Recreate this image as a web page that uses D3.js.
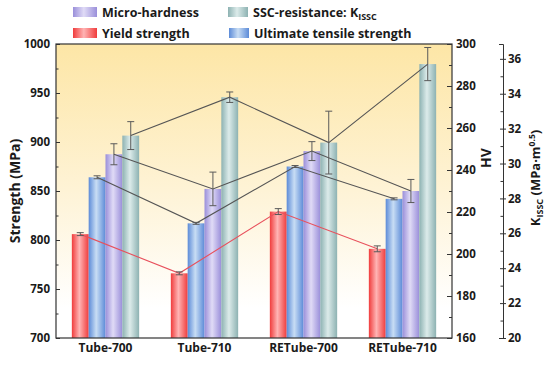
<!DOCTYPE html>
<html><head><meta charset="utf-8">
<script src="https://cdn.jsdelivr.net/npm/d3@7"></script>
<style>
body{margin:0;background:#fff;}
text{font-family:"Open Sans",sans-serif;font-weight:700;fill:#1a1a1a;}
</style></head>
<body><svg id="c" width="547" height="369"></svg>
<script>
const categories = ["Tube-700","Tube-710","RETube-700","RETube-710"];
const yieldStrength = [806, 766, 829, 791];
const yieldErr = [1.5, 1.5, 3, 3];
const ultimateStrength = [864, 817, 875, 842];
const ultimateErr = [1.5, 1, 1, 1];
const microHardness = [247.5, 231, 249, 230];
const microErr = [5, 8, 4.5, 5.5];
const kissc = [31.6, 33.8, 31.2, 35.7];
const kisscErr = [0.8, 0.3, 1.8, 0.95];
const strengthTicks = [700,750,800,850,900,950,1000];
const hvTicks = [160,180,200,220,240,260,280,300];
const kTicks = [20,22,24,26,28,30,32,34,36];

const svg = d3.select("#c");
const L=56,R=452,T=44,B=338;
const x0 = d3.scaleBand().domain(categories).range([L,R]).paddingInner(0.32).paddingOuter(0.16);
const seriesKeys = ["yield","uts","hv","k"];
const x1 = d3.scaleBand().domain(seriesKeys).range([0,x0.bandwidth()]);
const yS = d3.scaleLinear().domain([700,1000]).range([B,T]);
const yH = d3.scaleLinear().domain([160,300]).range([B,T]);
const yK = d3.scaleLinear().domain([20,36.85]).range([B,T]);

const defs = svg.append("defs");
const bg = defs.append("linearGradient").attr("id","bg").attr("x1",0).attr("x2",0).attr("y1",0).attr("y2",1);
bg.append("stop").attr("offset","0").attr("stop-color","#fde6a6");
bg.append("stop").attr("offset","0.5").attr("stop-color","#fef3d6");
bg.append("stop").attr("offset","0.9").attr("stop-color","#ffffff");
const grads = {
  yield:["#f03c3c","#ffb4b4"],
  uts:["#5c8bd8","#c8ddf4"],
  hv:["#9a8fda","#e0dbf6"],
  k:["#8db2b2","#dcebea"]
};
for (const k in grads){
  const g = defs.append("linearGradient").attr("id","g_"+k).attr("x1",0).attr("x2",1).attr("y1",0).attr("y2",0);
  g.append("stop").attr("offset","0").attr("stop-color",grads[k][0]);
  g.append("stop").attr("offset","0.45").attr("stop-color",grads[k][1]);
  g.append("stop").attr("offset","1").attr("stop-color",grads[k][0]);
}

svg.append("rect").attr("x",L).attr("y",T).attr("width",R-L).attr("height",B-T).attr("fill","url(#bg)");

const series = [
  {key:"yield", vals:yieldStrength, err:yieldErr, y:yS, line:"#e8505c"},
  {key:"uts", vals:ultimateStrength, err:ultimateErr, y:yS, line:"#555"},
  {key:"hv", vals:microHardness, err:microErr, y:yH, line:"#555"},
  {key:"k", vals:kissc, err:kisscErr, y:yK, line:"#555"}
];

series.forEach(s=>{
  svg.append("g").selectAll("rect").data(categories).join("rect")
    .attr("x",(c)=>x0(c)+x1(s.key))
    .attr("width",x1.bandwidth())
    .attr("y",(c,i)=>s.y(s.vals[i]))
    .attr("height",(c,i)=>B-s.y(s.vals[i]))
    .attr("fill","url(#g_"+s.key+")");
});
series.forEach(s=>{
  const line = d3.line().x((c)=>x0(c)+x1(s.key)+x1.bandwidth()/2).y((c,i)=>s.y(s.vals[i]));
  svg.append("path").attr("d",line(categories)).attr("fill","none").attr("stroke",s.line).attr("stroke-width",1.1);
});
series.forEach(s=>{
  const g = svg.append("g").attr("stroke","#5a5a5a").attr("stroke-width",1);
  categories.forEach((c,i)=>{
    const cx = x0(c)+x1(s.key)+x1.bandwidth()/2;
    const y1 = s.y(s.vals[i]+s.err[i]), y2 = s.y(s.vals[i]-s.err[i]);
    g.append("line").attr("x1",cx).attr("x2",cx).attr("y1",y1).attr("y2",y2);
    g.append("line").attr("x1",cx-3.5).attr("x2",cx+3.5).attr("y1",y1).attr("y2",y1);
    g.append("line").attr("x1",cx-3.5).attr("x2",cx+3.5).attr("y1",y2).attr("y2",y2);
  });
});

svg.append("rect").attr("x",L).attr("y",T).attr("width",R-L).attr("height",B-T).attr("fill","none").attr("stroke","#333").attr("stroke-width",1.2);

function style(g){ g.select(".domain").remove(); g.selectAll("line").attr("stroke","#333"); g.selectAll("text").attr("font-size",11.5).attr("font-family","Open Sans").attr("font-weight",700).attr("fill","#1a1a1a"); }
svg.append("g").attr("transform",`translate(${L},0)`).call(d3.axisLeft(yS).tickValues(strengthTicks).tickFormat(d3.format("d")).tickSize(-4).tickPadding(6)).call(style);
svg.append("g").attr("transform",`translate(${L},0)`).call(d3.axisLeft(yS).tickValues(d3.range(725,1000,50)).tickSize(-2.5).tickFormat("")).call(style);
svg.append("g").attr("transform",`translate(${R},0)`).call(d3.axisRight(yH).tickValues(hvTicks).tickSize(-5).tickPadding(4)).call(style);
svg.append("g").attr("transform",`translate(${R},0)`).call(d3.axisRight(yH).tickValues(d3.range(170,300,20)).tickSize(-3).tickFormat("")).call(style);
const KX = 503;
const kg = svg.append("g").attr("transform",`translate(${KX},0)`).call(d3.axisRight(yK).tickValues(kTicks).tickSizeInner(3).tickSizeOuter(-4).tickPadding(2));
kg.select(".domain").attr("stroke","#333").attr("fill","none");
kg.selectAll(".tick line").attr("x1",-3).attr("stroke","#333");
kg.selectAll("text").attr("font-size",11.5).attr("font-family","Open Sans").attr("font-weight",700).attr("fill","#1a1a1a");
const kg2 = svg.append("g").attr("transform",`translate(${KX},0)`).call(d3.axisRight(yK).tickValues(d3.range(21,37,2)).tickSize(0).tickFormat(""));
kg2.select(".domain").remove();
kg2.selectAll(".tick line").attr("x1",-2.5).attr("stroke","#333");

svg.append("g").selectAll("text").data(categories).join("text")
  .attr("x",c=>x0(c)+x0.bandwidth()/2).attr("y",352).attr("text-anchor","middle")
  .attr("font-size",12).text(c=>c);

svg.append("text").attr("transform","translate(20,191) rotate(-90)").attr("text-anchor","middle").attr("font-size",14).text("Strength (MPa)");
svg.append("text").attr("transform","translate(491,158) rotate(-90)").attr("text-anchor","middle").attr("font-size",14).text("HV");
const kt = svg.append("text").attr("transform","translate(540,178) rotate(-90)").attr("text-anchor","middle").attr("font-size",13);
kt.append("tspan").text("K");
kt.append("tspan").attr("font-size",9).attr("dy",3).text("ISSC");
kt.append("tspan").attr("dy",-3).text(" (MPa·m");
kt.append("tspan").attr("font-size",8.5).attr("dy",-5).text("0.5");
kt.append("tspan").attr("dy",5).text(")");

const legend = [
  {key:"hv", label:"Micro-hardness", x:73, y:7, w:24},
  {key:"yield", label:"Yield strength", x:73, y:28, w:24},
  {key:"k", label:"SSC-resistance: K", sub:"ISSC", x:228, y:7, w:20},
  {key:"uts", label:"Ultimate tensile strength", x:229, y:28, w:20}
];
legend.forEach(d=>{
  svg.append("rect").attr("x",d.x).attr("y",d.y).attr("width",d.w).attr("height",10).attr("fill","url(#g_"+d.key+")");
  const t = svg.append("text").attr("x",d.x+d.w+5).attr("y",d.y+9.5).attr("font-size",12.5);
  t.append("tspan").text(d.label);
  if(d.sub){ t.append("tspan").attr("font-size",9).attr("dy",3).text(d.sub); }
});
</script></body></html>
